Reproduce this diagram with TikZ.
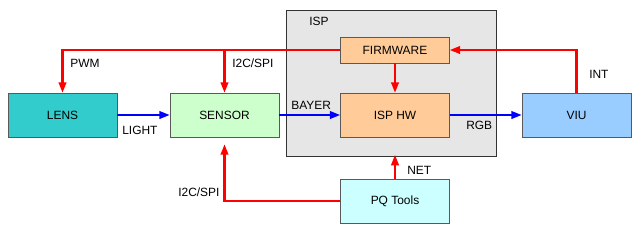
\documentclass[tikz,border=0pt]{standalone}
\usepackage{fontspec}
\setmainfont{Liberation Sans}
\usepackage{xcolor}
\usepackage{tikz}
\usetikzlibrary{shapes,arrows.meta,positioning,calc}

\definecolor{lenscol}{HTML}{33CCCC}
\definecolor{sensorcol}{HTML}{CCFFCC}
\definecolor{ispcol}{HTML}{FFCC99}
\definecolor{viucol}{HTML}{99CCFF}
\definecolor{pqcol}{HTML}{CCFFFF}
\definecolor{boxcol}{HTML}{E6E6E6}
\definecolor{ctrlred}{HTML}{FF0000}
\definecolor{datablue}{HTML}{0000FF}

\begin{document}
\begin{tikzpicture}[
  x=0.025cm, y=-0.025cm,
  font=\fontsize{8.5}{10}\selectfont,
  block/.style={rectangle, draw=black!65, minimum width=2.725cm, minimum height=1.1cm, inner sep=0pt},
  fwblock/.style={block, minimum height=0.65cm},
  ctrl/.style={-{Triangle[length=2.6mm,width=1.9mm]}, line width=1.5pt, draw=ctrlred},
  data/.style={-{Triangle[length=2.6mm,width=1.9mm]}, line width=1.5pt, draw=datablue},
  lbl/.style={anchor=west, inner sep=0pt}
]
\useasboundingbox (0,0) rectangle (640,233);

% ISP
\node[rectangle, draw=black!80, fill=boxcol, minimum width=5.25cm, minimum height=3.65cm, inner sep=0pt] (isp) at (391,83) {};
\node[lbl] (isptxt) at (309,21) {ISP};

% Blocks
\node[block, fill=lenscol] (lens) at (62.5,115) {LENS};
\node[block, fill=sensorcol] (sensor) at (224.5,115) {SENSOR};
\node[fwblock, fill=ispcol] (fw) at (395,50) {FIRMWARE};
\node[block, fill=ispcol] (isphw) at (395,115) {ISP HW};
\node[block, fill=viucol] (viu) at (576.5,115) {VIU};
\node[block, fill=pqcol] (pq) at (395,201) {PQ Tools};

% Labels
\node[lbl] (pwm) at (70,63) {PWM};
\node[lbl] (i2ctop) at (232,63) {I2C/SPI};
\node[lbl] (light) at (122,130) {LIGHT};
\node[lbl] (bayer) at (291,105) {BAYER};
\node[lbl] (rgb) at (466,125) {RGB};
\node[lbl] (int) at (589,74) {INT};
\node[lbl] (net) at (407,170) {NET};
\node[lbl] (i2cbot) at (178,192) {I2C/SPI};

% Connections
\draw[ctrl] (fw.west) -| (lens.north);
\draw[ctrl] (fw.west) -| (sensor.north);
\draw[ctrl] (fw.south) -- (isphw.north);
\draw[ctrl] (viu.north) |- (fw.east);
\draw[ctrl, shorten >=-1pt] (pq.north) -- (pq.north |- isp.south);
\draw[ctrl, shorten >=5pt] (pq.west) -| (sensor.south);
\draw[data] (lens) -- (sensor);
\draw[data] (sensor) -- (isphw);
\draw[data] (isphw) -- (viu);

\end{tikzpicture}
\end{document}
